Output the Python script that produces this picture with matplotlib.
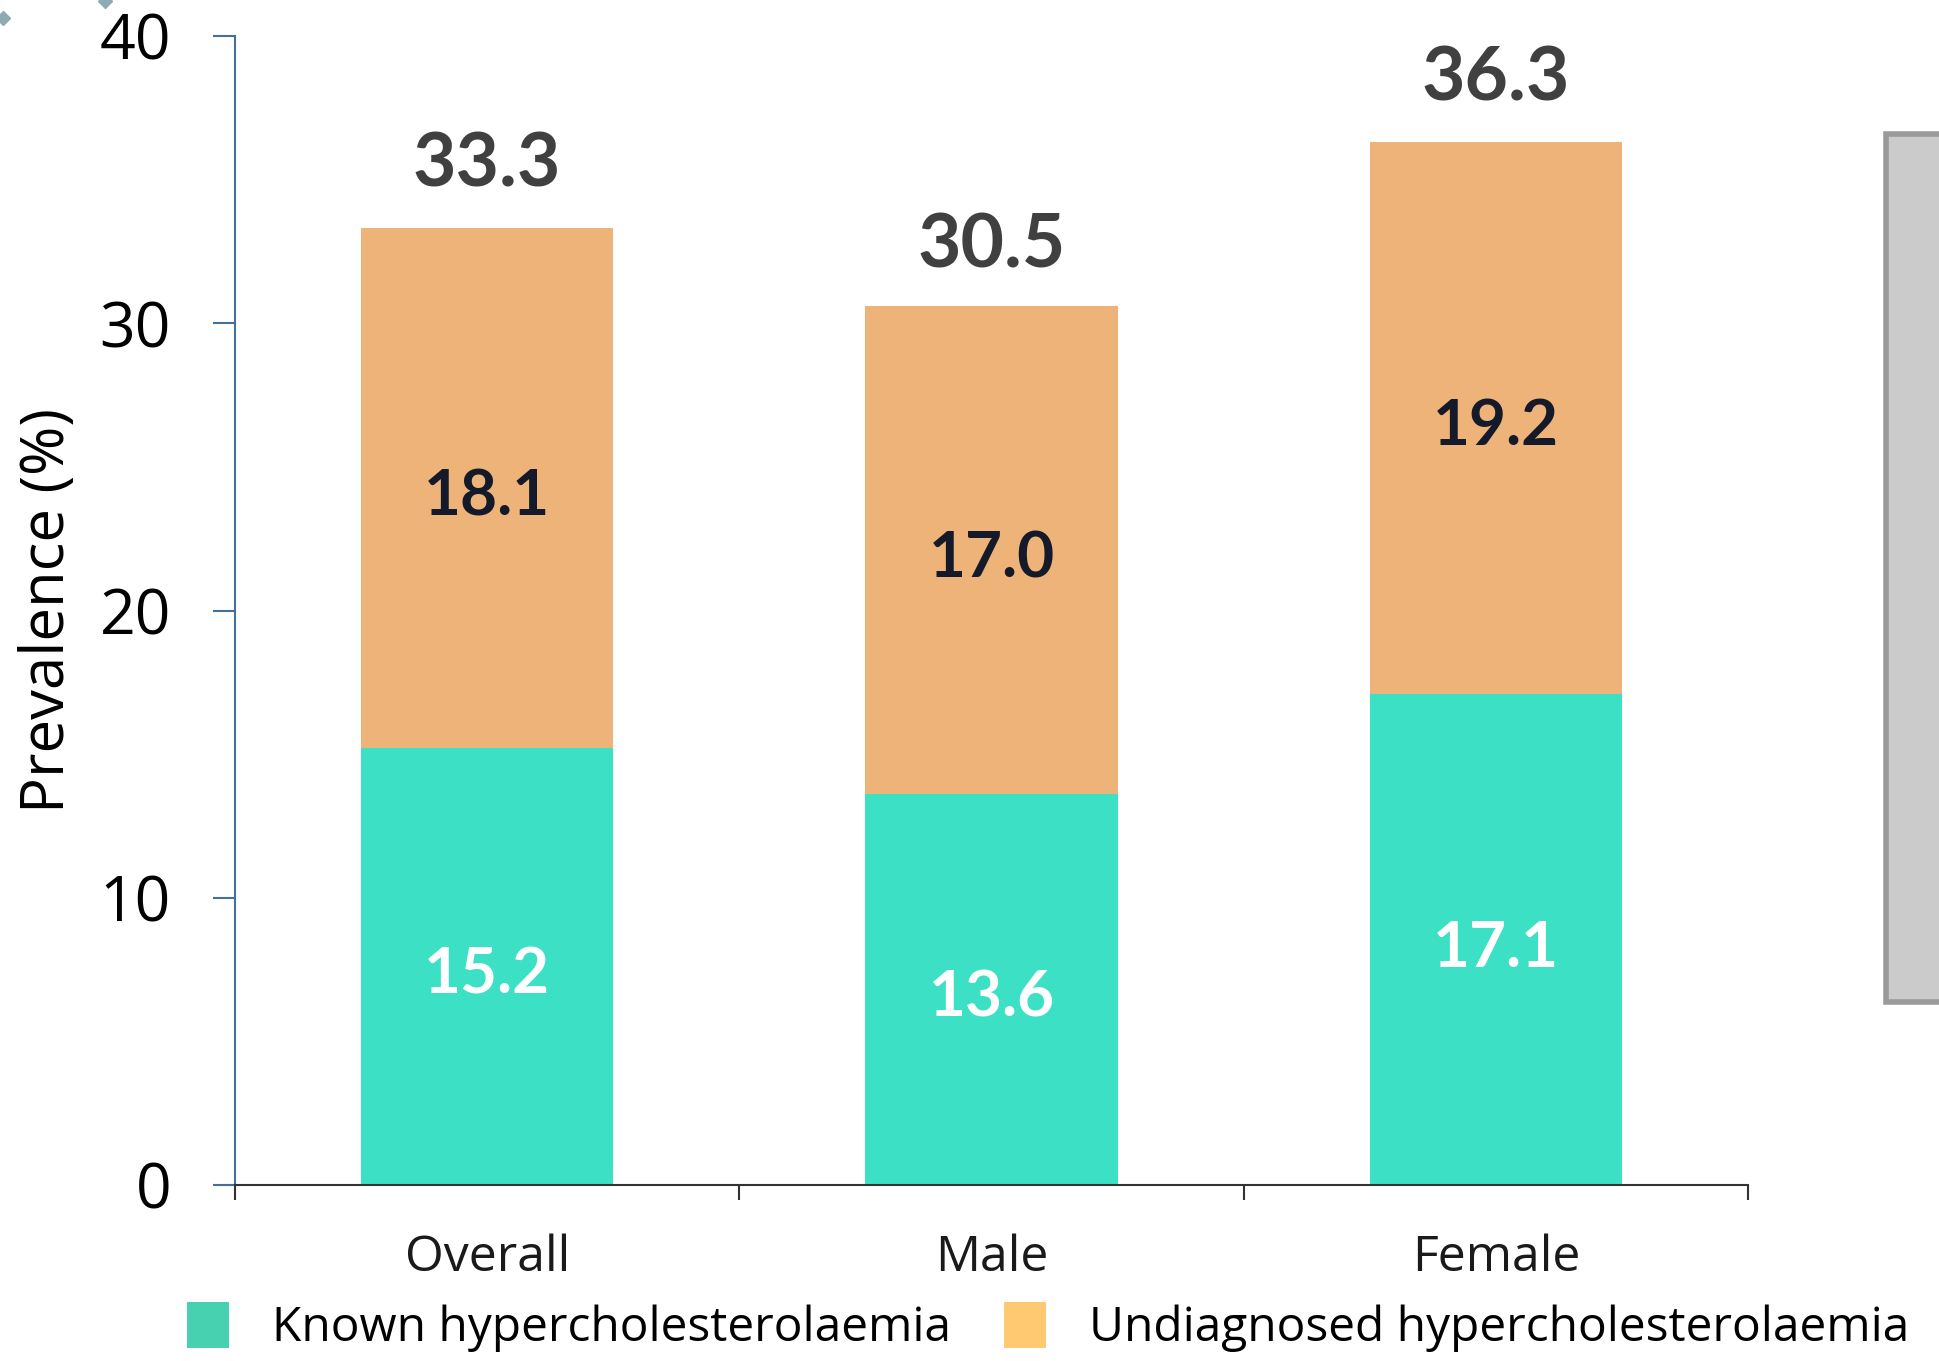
import matplotlib.pyplot as plt
import numpy as np
from matplotlib.patches import Patch, Rectangle
from matplotlib.lines import Line2D

categories = ['Overall', 'Male', 'Female']
known = [15.2, 13.6, 17.1]
undiagnosed = [18.1, 17.0, 19.2]
totals = [33.3, 30.5, 36.3]
yticks = [0, 10, 20, 30, 40]

teal = '#3CE0C4'
orange = '#EEB378'

fig = plt.figure(figsize=(19.4, 13.61), dpi=100)
ax = fig.add_axes([235/1940, 176/1361, 1513/1940, 1149/1361])

x = np.arange(len(categories))
ax.bar(x, known, width=0.5, color=teal)
ax.bar(x, undiagnosed, width=0.5, bottom=known, color=orange)

# value labels (baseline placed a bit below the segment middle)
for i in range(len(categories)):
    ax.text(x[i], known[i] / 2 - 0.95, '%.1f' % known[i], ha='center', va='baseline',
            color='white', fontsize=46, fontweight='bold', family='Lato')
    ax.text(x[i], known[i] + undiagnosed[i] / 2 - 0.95, '%.1f' % undiagnosed[i], ha='center',
            va='baseline', color='#151a2a', fontsize=46, fontweight='bold', family='Lato')
    ax.text(x[i], totals[i] + 1.45, '%.1f' % totals[i], ha='center', va='baseline',
            color='#404040', fontsize=54, fontweight='bold', family='Lato')

ax.set_xlim(-0.5, 2.5)
ax.set_ylim(0, 40)
ax.set_yticks(yticks)
ax.set_yticklabels([str(t) for t in yticks], fontsize=45, family='Open Sans')
ax.tick_params(axis='y', direction='out', length=16, width=1.5, color='#41719C', pad=30)
ax.set_xticks(x)
ax.set_xticklabels(categories, fontsize=36, family='Open Sans', color='#1a1a1a')
ax.tick_params(axis='x', which='major', length=0, pad=35)
ax.set_xticks([-0.5, 0.5, 1.5, 2.5], minor=True)
ax.tick_params(axis='x', which='minor', direction='out', length=11, width=1.5, color='#333333')

ax.set_ylabel('Prevalence (%)', fontsize=43, family='Open Sans')
ax.yaxis.set_label_coords(-0.104, 0.5)

for s in ['top', 'right']:
    ax.spines[s].set_visible(False)
ax.spines['left'].set_color('#41719C')
ax.spines['left'].set_linewidth(1.5)
ax.spines['bottom'].set_color('#333333')
ax.spines['bottom'].set_linewidth(1.5)

# grey box on the right edge
fig.add_artist(Rectangle((1886/1940, (1361-1002)/1361), 80/1940, 868/1361,
                         transform=fig.transFigure, facecolor='#CBCBCB',
                         edgecolor='#9A9A9A', linewidth=4))

# small diamond fragments at top-left
fig.add_artist(Line2D([3/1940], [1-18/1361], marker='D', markersize=7, color='#8FAAB0',
                      transform=fig.transFigure))
fig.add_artist(Line2D([105/1940], [1-1/1361], marker='D', markersize=7, color='#8FAAB0',
                      transform=fig.transFigure))

handles = [Patch(facecolor='#48D1B0', label='Known hypercholesterolaemia'),
           Patch(facecolor='#FFC972', label='Undiagnosed hypercholesterolaemia')]
fig.legend(handles=handles, loc='center', bbox_to_anchor=(1048/1940, 1-1327/1361),
           ncol=2, frameon=False, prop={'family': 'Open Sans', 'size': 34.5},
           handlelength=0.88, handleheight=1.1, handletextpad=0.88, columnspacing=1.12,
           borderpad=0, borderaxespad=0)

fig.savefig('out.png', dpi=100)
